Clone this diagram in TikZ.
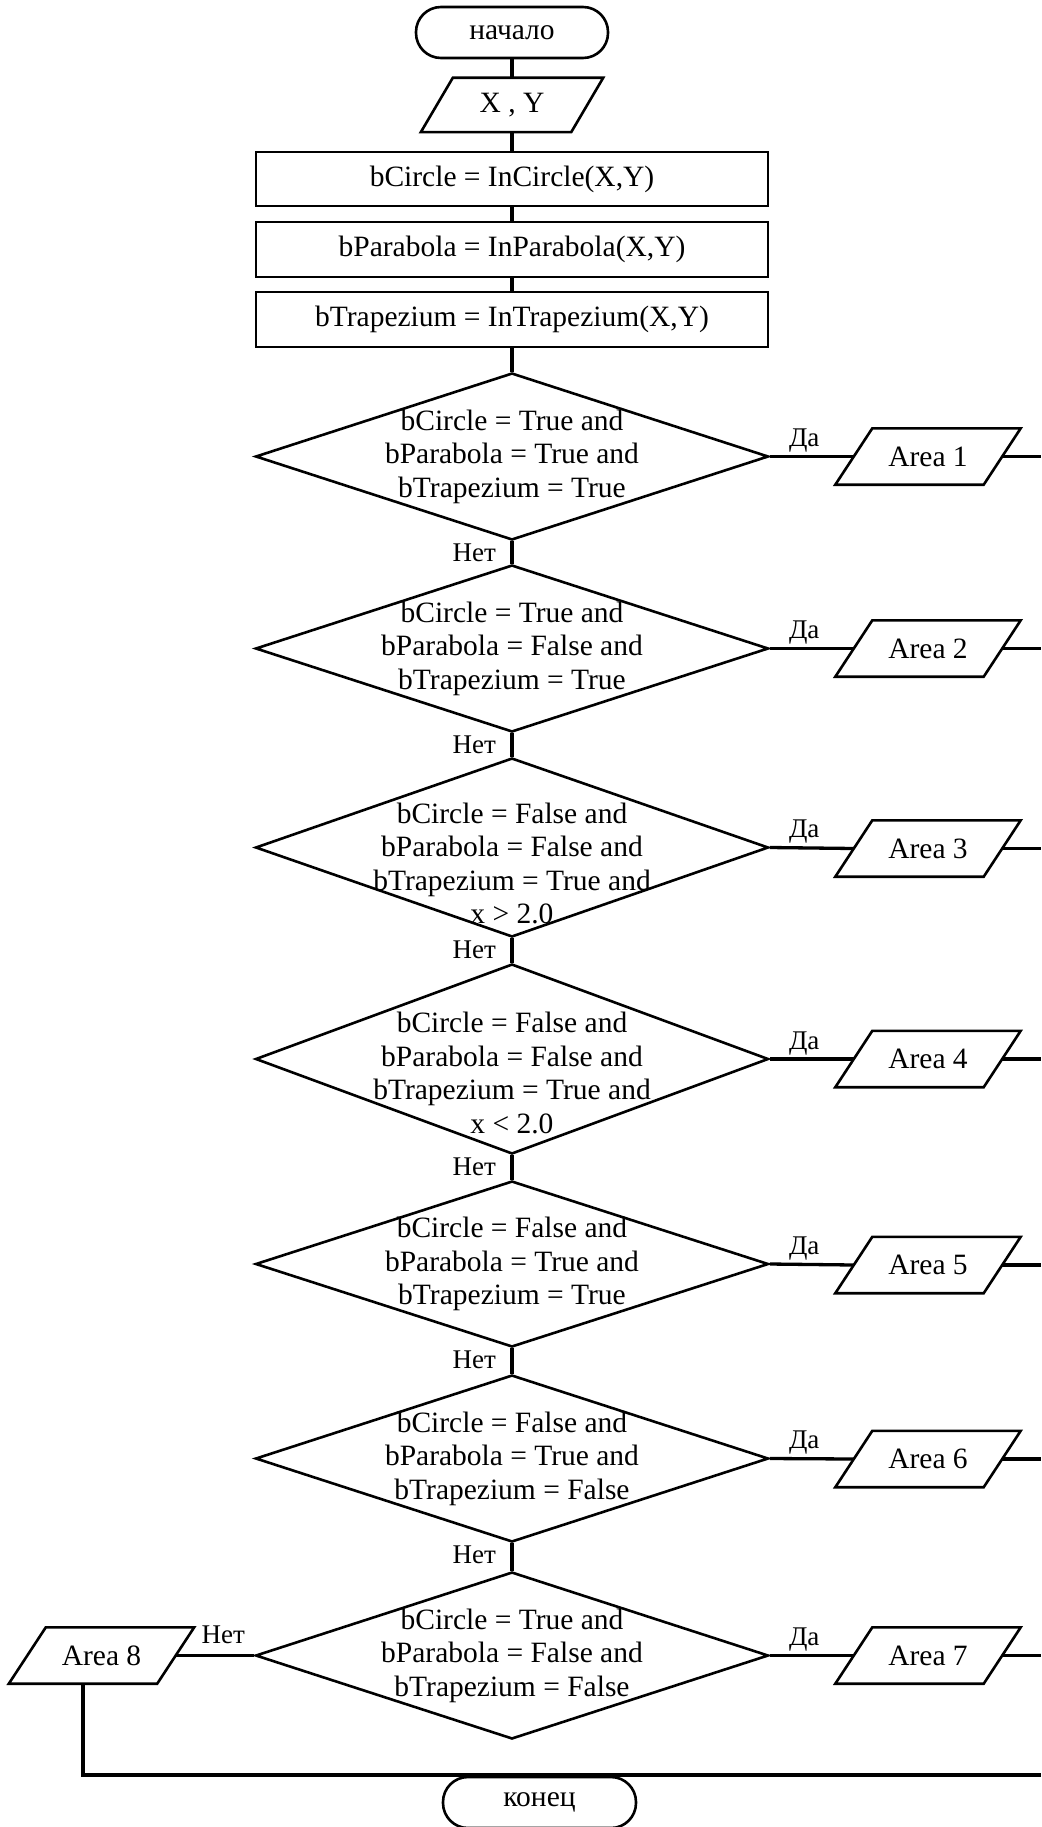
\documentclass[tikz,border=0pt]{standalone}
\usepackage{fontspec}
\setmainfont{Liberation Serif}
\usetikzlibrary{shapes.geometric}
\begin{document}
\begin{tikzpicture}[x=1pt,y=-1pt,
  outline/.style={draw=black, line width=2.6pt},
  bodyfont/.style={font=\fontsize{29.5}{33.5}\selectfont},
  term/.style={outline, bodyfont, rectangle, rounded corners=25pt,
    minimum width=192pt, minimum height=51pt, inner sep=0pt},
  procbox/.style={outline, bodyfont, rectangle,
    minimum width=512pt, minimum height=55pt, inner sep=0pt},
  % body of a data box; the slanted outline is drawn around it below
  iobody/.style={bodyfont, rectangle, minimum width=148pt,
    minimum height=56pt, inner sep=0pt},
  cond/.style={outline, diamond, minimum width=513pt, inner sep=0pt},
  condtext/.style={bodyfont, align=center, inner sep=0pt},
  lbl/.style={font=\fontsize{27}{30}\selectfont, inner sep=0pt},
  flow/.style={line width=3.3pt},
]
\useasboundingbox (0,0) rectangle (1041,1827);

% start, input and the three function calls
\node[term] (start) at (512,32.5) {начало};
\node[iobody, minimum width=150pt, minimum height=54pt] (xy) at (512,105) {X , Y};
\node[procbox, minimum height=54pt] (r1) at (512,179) {bCircle = InCircle(X,Y)};
\node[procbox] (r2) at (512,249.5) {bParabola = InParabola(X,Y)};
\node[procbox] (r3) at (512,319.5) {bTrapezium = InTrapezium(X,Y)};

% decisions
\node[cond, minimum height=167pt] (d1) at (512,456.5) {};
\node[condtext] (t1) at (d1.center) {bCircle = True and\\bParabola = True and\\bTrapezium = True};
\node[cond, minimum height=167pt] (d2) at (512,648.5) {};
\node[condtext] (t2) at (d2.center) {bCircle = True and\\bParabola = False and\\bTrapezium = True};
\node[cond, minimum height=179pt] (d3) at (512,847.5) {};
\node[condtext] (t3) at ([yshift=-16pt]d3.center) {bCircle = False and\\bParabola = False and\\bTrapezium = True and\\x > 2.0};
\node[cond, minimum height=190pt] (d4) at (512,1059) {};
\node[condtext] (t4) at ([yshift=-14pt]d4.center) {bCircle = False and\\bParabola = False and\\bTrapezium = True and\\x < 2.0};
\node[cond, minimum height=166pt] (d5) at (512,1264) {};
\node[condtext] (t5) at (d5.center) {bCircle = False and\\bParabola = True and\\bTrapezium = True};
\node[cond, minimum height=167pt] (d6) at (512,1458.5) {};
\node[condtext] (t6) at (d6.center) {bCircle = False and\\bParabola = True and\\bTrapezium = False};
\node[cond, minimum height=167pt] (d7) at (512,1655.5) {};
\node[condtext] (t7) at (d7.center) {bCircle = True and\\bParabola = False and\\bTrapezium = False};

% area outputs
\node[iobody] (a1) at (928,456.5) {Area 1};
\node[iobody] (a2) at (928,648.5) {Area 2};
\node[iobody] (a3) at (928,848.5) {Area 3};
\node[iobody] (a4) at (928,1059) {Area 4};
\node[iobody] (a5) at (928,1265) {Area 5};
\node[iobody] (a6) at (928,1459) {Area 6};
\node[iobody] (a7) at (928,1655.5) {Area 7};
\node[iobody] (a8) at (101.5,1655.5) {Area 8};

% slanted outlines of the data boxes
\draw[outline] ([xshift=16pt]xy.north west) -- ([xshift=16pt]xy.north east)
  -- ([xshift=-16pt]xy.south east) -- ([xshift=-16pt]xy.south west) -- cycle;
\foreach \b in {a1,a2,a3,a4,a5,a6,a7,a8} {
  \draw[outline] ([xshift=18.5pt]\b.north west) -- ([xshift=18.5pt]\b.north east)
    -- ([xshift=-18.5pt]\b.south east) -- ([xshift=-18.5pt]\b.south west) -- cycle;
}

% end
\node[term, minimum width=193pt] (stop) at (539.5,1802.5) {конец};

% right collector edge and lower return line
\coordinate (rx) at (1041,0);
\coordinate (back) at (1041,1775);

% main vertical flow
\draw[flow] (start.south) -- (xy.north);
\draw[flow] (xy.south) -- (r1.north);
\draw[flow] (r1.south) -- (r2.north);
\draw[flow] (r2.south) -- (r3.north);
\draw[flow] (r3.south) -- (d1.north);
\draw[flow] (d1.south) -- (d2.north);
\draw[flow] (d2.south) -- (d3.north);
\draw[flow] (d3.south) -- (d4.north);
\draw[flow] (d4.south) -- (d5.north);
\draw[flow] (d5.south) -- (d6.north);
\draw[flow] (d6.south) -- (d7.north);

% yes branches
\foreach \i in {1,...,7} {
  \draw[flow] (d\i.east) -- (a\i.west);
  \draw[flow] (a\i.east) -- (a\i.east -| rx);
  \node[lbl, anchor=base west] (y\i) at ([xshift=19pt,yshift=10pt]d\i.east) {Да};
}
% no branches
\foreach \i in {1,...,6} {
  \node[lbl, anchor=base east] (n\i) at ([xshift=-16pt,yshift=-20pt]d\i.south) {Нет};
}
\draw[flow] (d7.west) -- (a8.east);
\node[lbl, anchor=base east] (n7) at ([xshift=-9pt,yshift=12pt]d7.west) {Нет};
\draw[flow] ([xshift=-18.5pt]a8.south) |- (back);
\end{tikzpicture}
\end{document}
